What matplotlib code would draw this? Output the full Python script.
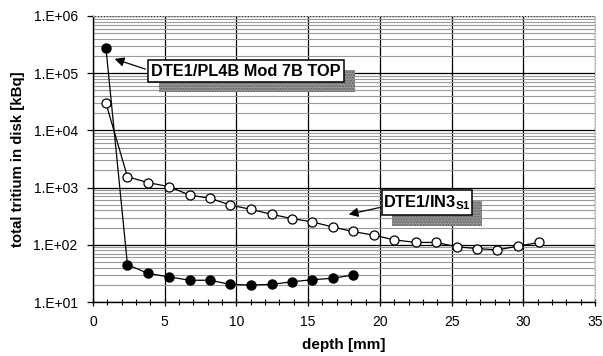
import matplotlib
matplotlib.use("Agg")
import matplotlib.pyplot as plt
from matplotlib.ticker import FixedLocator, FixedFormatter, LogLocator, NullFormatter, MultipleLocator
from matplotlib.patches import Rectangle
import numpy as np

plt.rcParams['font.family'] = ['Liberation Sans', 'DejaVu Sans']
plt.rcParams['mathtext.fontset'] = 'custom'
plt.rcParams['mathtext.bf'] = 'Liberation Sans:bold'
plt.rcParams['mathtext.rm'] = 'Liberation Sans:bold'

# Data
pl4b_depth = [0.9, 2.4, 3.85, 5.3, 6.74, 8.17, 9.58, 11.0, 12.45, 13.87, 15.3, 16.7, 18.1]
pl4b_tritium = [2.8e5, 45, 31.5, 27.5, 24, 24, 20.3, 19.8, 20.3, 22.6, 24.5, 26, 29.5]

in3_depth = [0.9, 2.4, 3.85, 5.3, 6.74, 8.17, 9.58, 11.0, 12.45, 13.87, 15.3, 16.7, 18.1,
             19.6, 21.0, 22.5, 23.9, 25.4, 26.8, 28.2, 29.65, 31.1]
in3_tritium = [3.0e4, 1550, 1220, 1040, 740, 650, 495, 417, 341, 287, 251, 205, 171,
               147, 122, 110, 110, 92, 86, 81.5, 95, 110]

xticks = [0, 5, 10, 15, 20, 25, 30, 35]
yticks = [1e1, 1e2, 1e3, 1e4, 1e5, 1e6]
ytick_labels = ["1.E+01", "1.E+02", "1.E+03", "1.E+04", "1.E+05", "1.E+06"]
label_pl4b = "DTE1/PL4B Mod 7B TOP"
label_in3 = r"DTE1/IN3$_{\mathbf{S1}}$"

W, H = 603, 356
fig = plt.figure(figsize=(W / 100, H / 100), dpi=100)
L, R, T, B = 93, 595, 16, 302
ax = fig.add_axes([L / W, 1 - B / H, (R - L) / W, (B - T) / H])

ax.set_yscale('log')
ax.set_xlim(0, 35)
ax.set_ylim(1e1, 1e6)

# grid
ax.yaxis.set_minor_locator(LogLocator(base=10, subs=np.arange(2, 10)))
ax.yaxis.set_minor_formatter(NullFormatter())
ax.grid(which='minor', axis='y', color='#9a9a9a', linewidth=0.8)
ax.grid(which='major', axis='y', color='black', linewidth=0.9)
ax.grid(which='major', axis='x', color='black', linewidth=0.9)
ax.set_axisbelow(True)

ax.xaxis.set_major_locator(FixedLocator(xticks))
ax.xaxis.set_major_formatter(FixedFormatter([str(v) for v in xticks]))
ax.xaxis.set_minor_locator(MultipleLocator(1))
ax.yaxis.set_major_locator(FixedLocator(yticks))
ax.yaxis.set_major_formatter(FixedFormatter(ytick_labels))

ax.tick_params(axis='x', which='major', direction='inout', length=6, width=0.9, labelsize=10, pad=6)
ax.tick_params(axis='x', which='minor', direction='inout', length=5, width=0.8)
ax.tick_params(axis='y', which='major', direction='out', length=4, width=0.9, labelsize=10, pad=7)
ax.tick_params(axis='y', which='minor', length=0)

for s in ['left', 'bottom']:
    ax.spines[s].set_linewidth(1.0)
for s in ['top', 'right']:
    ax.spines[s].set_color('#b0b0b0')
    ax.spines[s].set_linestyle(':')
    ax.spines[s].set_linewidth(0.8)

ax.plot(in3_depth, in3_tritium, '-o', color='black', markerfacecolor='white',
        markeredgecolor='black', markersize=6.5, markeredgewidth=0.9, linewidth=0.9, zorder=3)
ax.plot(pl4b_depth, pl4b_tritium, '-o', color='black', markerfacecolor='black',
        markersize=6.5, linewidth=0.9, zorder=4)

ax.set_xlabel("depth [mm]", fontsize=11, fontweight='bold', labelpad=7)
ax.set_ylabel("total tritium in disk [kBq]", fontsize=10.8, fontweight='bold', labelpad=6)


def px2ax(px, py):
    return (px - L) / (R - L), (B - py) / (B - T)


def label_box(x0, y0, x1, y1, dx, dy, text):
    ax0, ay1 = px2ax(x0, y0)
    ax1, ay0 = px2ax(x1, y1)
    sx0, sy1 = px2ax(x0 + dx, y0 + dy)
    sx1, sy0 = px2ax(x1 + dx, y1 + dy)
    ax.add_patch(Rectangle((sx0, sy0), sx1 - sx0, sy1 - sy0, transform=ax.transAxes,
                           facecolor='#999999', edgecolor='#606060', hatch='......',
                           linewidth=0, zorder=5, clip_on=False))
    ax.add_patch(Rectangle((ax0, ay0), ax1 - ax0, ay1 - ay0, transform=ax.transAxes,
                           facecolor='white', edgecolor='black', linewidth=1.1, zorder=6,
                           clip_on=False))
    ax.text((ax0 + ax1) / 2, (ay0 + ay1) / 2, text, transform=ax.transAxes,
            ha='center', va='center', fontsize=11.8, fontweight='bold', zorder=7)


label_box(148, 60, 344, 82, 11, 10, label_pl4b)
label_box(382, 190, 472, 215, 10, 11, label_in3)

# arrows
ax.annotate("", xy=px2ax(112, 58), xytext=px2ax(148, 70), xycoords='axes fraction',
            textcoords='axes fraction',
            arrowprops=dict(arrowstyle='-|>', color='black', lw=0.9, mutation_scale=14), zorder=8)
ax.annotate("", xy=px2ax(346, 215), xytext=px2ax(382, 207), xycoords='axes fraction',
            textcoords='axes fraction',
            arrowprops=dict(arrowstyle='-|>', color='black', lw=0.9, mutation_scale=14), zorder=8)

fig.savefig("out.png", dpi=100)
